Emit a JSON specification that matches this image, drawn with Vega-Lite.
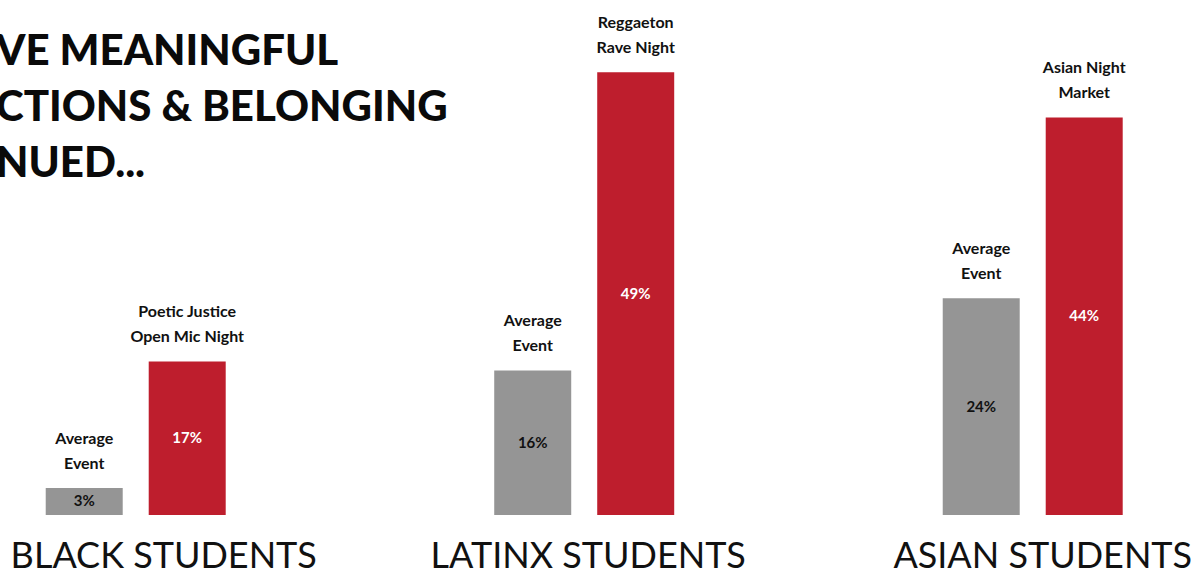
{
  "$schema": "https://vega.github.io/schema/vega-lite/v6.json",
  "width": 1204,
  "height": 515,
  "autosize": {"type": "none"},
  "padding": {"left": 0, "top": 0, "right": 0, "bottom": 60},
  "background": "white",
  "title": {
    "text": ["VE MEANINGFUL", "CTIONS & BELONGING", "NUED..."],
    "anchor": "start",
    "frame": "group",
    "font": "Lato",
    "fontWeight": 900,
    "fontSize": 42,
    "lineHeight": 56,
    "color": "#0a0a0a",
    "dx": -4,
    "dy": 186,
    "offset": 0
  },
  "data": {
    "values": [
      {"group": "BLACK STUDENTS", "type": "Average", "label": "Average\nEvent", "value": 3},
      {"group": "BLACK STUDENTS", "type": "Event", "label": "Poetic Justice\nOpen Mic Night", "value": 17},
      {"group": "LATINX STUDENTS", "type": "Average", "label": "Average\nEvent", "value": 16},
      {"group": "LATINX STUDENTS", "type": "Event", "label": "Reggaeton\nRave Night", "value": 49},
      {"group": "ASIAN STUDENTS", "type": "Average", "label": "Average\nEvent", "value": 24},
      {"group": "ASIAN STUDENTS", "type": "Event", "label": "Asian Night\nMarket", "value": 44}
    ]
  },
  "transform": [
    {"calculate": "datum.value / 2", "as": "mid"},
    {"calculate": "datum.value + '%'", "as": "pct"}
  ],
  "encoding": {
    "x": {
      "field": "group",
      "type": "nominal",
      "sort": ["BLACK STUDENTS", "LATINX STUDENTS", "ASIAN STUDENTS"],
      "scale": {"paddingInner": 0.5987, "paddingOuter": 0.1416, "align": 0.36},
      "axis": {
        "title": null,
        "domain": false,
        "ticks": false,
        "labelAngle": 0,
        "labelFont": "Lato",
        "labelFontSize": 36,
        "labelFontWeight": 400,
        "labelColor": "#111111",
        "labelPadding": 24,
        "labelOffset": {
          "condition": [
            {"test": "datum.value === 'BLACK STUDENTS'", "value": 28},
            {"test": "datum.value === 'LATINX STUDENTS'", "value": 4}
          ],
          "value": 10
        },
        "labelLimit": 0,
        "labelOverlap": false
      }
    },
    "xOffset": {
      "field": "type",
      "type": "nominal",
      "sort": ["Average", "Event"],
      "scale": {"paddingInner": 0.2524, "paddingOuter": 0}
    }
  },
  "layer": [
    {
      "mark": {"type": "bar"},
      "encoding": {
        "y": {
          "field": "value",
          "type": "quantitative",
          "scale": {"domain": [0, 57], "nice": false},
          "axis": null
        },
        "color": {
          "field": "type",
          "type": "nominal",
          "scale": {"domain": ["Average", "Event"], "range": ["#959595", "#BE1E2D"]},
          "legend": null
        }
      }
    },
    {
      "mark": {
        "type": "text",
        "font": "Lato",
        "fontWeight": 700,
        "fontSize": 15,
        "baseline": "middle",
        "align": "center"
      },
      "encoding": {
        "y": {"field": "mid", "type": "quantitative", "scale": {"domain": [0, 57], "nice": false}},
        "text": {"field": "pct"},
        "color": {
          "condition": {"test": "datum.type === 'Event'", "value": "#ffffff"},
          "value": "#111111"
        }
      }
    },
    {
      "mark": {
        "type": "text",
        "font": "Lato",
        "fontWeight": 700,
        "fontSize": 16,
        "baseline": "bottom",
        "align": "center",
        "lineBreak": "\n",
        "lineHeight": 25,
        "dy": -41,
        "color": "#111111"
      },
      "encoding": {
        "y": {"field": "value", "type": "quantitative", "scale": {"domain": [0, 57], "nice": false}},
        "text": {"field": "label"}
      }
    }
  ],
  "config": {
    "view": {"stroke": null}
  }
}
